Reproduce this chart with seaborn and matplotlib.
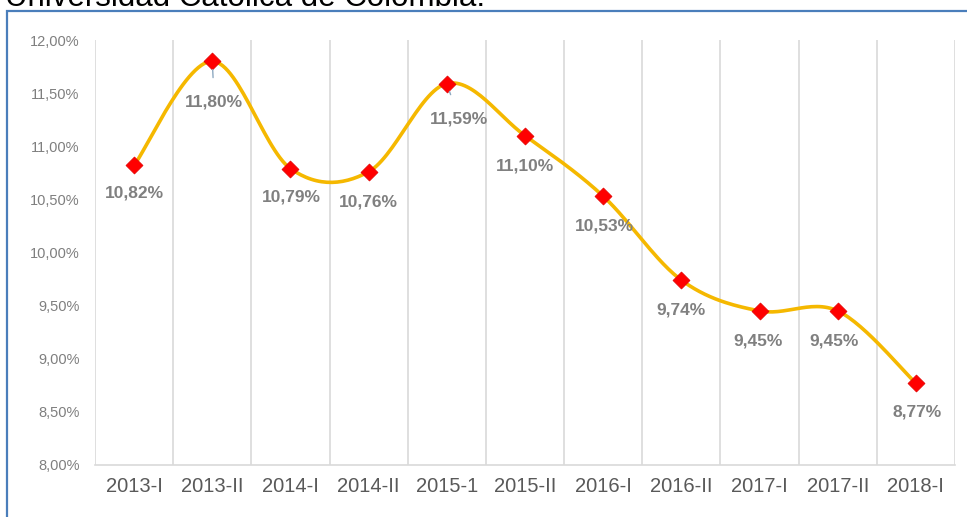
#!/usr/bin/env python3

import numpy as np
import pandas as pd
import matplotlib
matplotlib.use("Agg")
import matplotlib.pyplot as plt
import seaborn as sns
from matplotlib.patches import Rectangle

periodos = ["2013-I", "2013-II", "2014-I", "2014-II", "2015-1", "2015-II",
            "2016-I", "2016-II", "2017-I", "2017-II", "2018-I"]
tasa = [10.82, 11.80, 10.79, 10.76, 11.59, 11.10, 10.53, 9.74, 9.45, 9.45, 8.77]
# label offsets in pixels (dx, dy), dy negative = below
label_off = [(0, -28), (2, -41), (1, -28), (0, -30), (12, -35), (0, -30),
             (1, -30), (0, -30), (-1, -30), (-4, -30), (1, -29)]

yticks = [8, 8.5, 9, 9.5, 10, 10.5, 11, 11.5, 12]


def smooth(xs, ys, n=30):
    # catmull-rom like Excel's smoothed line
    xs = np.asarray(xs, float)
    ys = np.asarray(ys, float)
    px = np.concatenate([[xs[0]], xs, [xs[-1]]])
    py = np.concatenate([[ys[0]], ys, [ys[-1]]])
    ox, oy = [], []
    for i in range(1, len(px) - 2):
        t = np.linspace(0, 1, n, endpoint=False)
        p0, p1, p2, p3 = i - 1, i, i + 1, i + 2
        # bezier control points
        c1x = px[p1] + (px[p2] - px[p0]) / 6
        c1y = py[p1] + (py[p2] - py[p0]) / 6
        c2x = px[p2] - (px[p3] - px[p1]) / 6
        c2y = py[p2] - (py[p3] - py[p1]) / 6
        b = lambda a0, a1, a2, a3: ((1 - t) ** 3 * a0 + 3 * (1 - t) ** 2 * t * a1
                                    + 3 * (1 - t) * t ** 2 * a2 + t ** 3 * a3)
        ox.extend(b(px[p1], c1x, c2x, px[p2]))
        oy.extend(b(py[p1], c1y, c2y, py[p2]))
    ox.append(xs[-1])
    oy.append(ys[-1])
    return np.array(ox), np.array(oy)


df = pd.DataFrame({"pos": np.arange(len(periodos)), "tasa": tasa})
sx, sy = smooth(df["pos"], df["tasa"])
curve = pd.DataFrame({"x": sx, "y": sy})

sns.set_style("white")
plt.rcParams["font.family"] = ["Liberation Sans", "DejaVu Sans"]

fig = plt.figure(figsize=(9.67, 5.17), dpi=100)
W, H = 967, 517
ax = fig.add_axes([95 / W, 1 - 465 / H, 860 / W, 425 / H])

sns.lineplot(data=curve, x="x", y="y", ax=ax, color="#F5B800", lw=2.6,
             sort=False, zorder=2)
sns.scatterplot(data=df, x="pos", y="tasa", ax=ax, marker="D", s=75,
                color="#FF0000", edgecolor="#E00000", linewidth=0.5, zorder=3)

for i, v in enumerate(tasa):
    dx, dy = label_off[i]
    lbl = f"{v:.2f}%".replace(".", ",")
    kw = {}
    if i in (1, 4):
        kw["arrowprops"] = dict(arrowstyle="-", color="#8EA9C1", lw=1,
                                shrinkA=10, shrinkB=6)
    ax.annotate(lbl, (i, v), xytext=(dx, dy), textcoords="offset pixels",
                ha="center", va="center", fontsize=12.5, fontweight="bold",
                color="#808080", **kw)

ax.set_xlim(-0.5, len(periodos) - 0.5)
ax.set_ylim(8, 12)
ax.set_xticks(range(len(periodos)))
ax.set_xticklabels(periodos, fontsize=14.5, color="#595959")
ax.set_yticks(yticks)
ax.set_yticklabels([f"{t:.2f}%".replace(".", ",") for t in yticks],
                   fontsize=10.5, color="#7F7F7F")
ax.tick_params(axis="both", length=0)
ax.tick_params(axis="y", pad=11)
ax.tick_params(axis="x", pad=9)
for k in range(len(periodos) + 1):
    ax.axvline(k - 0.5, color="#D9D9D9", lw=1.2, zorder=0)
for s in ["top", "right", "left"]:
    ax.spines[s].set_visible(False)
ax.spines["bottom"].set_color("#D9D9D9")
ax.spines["bottom"].set_linewidth(1.2)
ax.set_xlabel("")
ax.set_ylabel("")

fig.patches.append(Rectangle((7 / W, -0.1), 1.1, 1 - 11 / H + 0.1,
                             transform=fig.transFigure, fill=False,
                             edgecolor="#4A7EBB", lw=1.6, zorder=0))
# title sits partly above the image edge, as in the source screenshot
fig.text(5 / W, 1 - 6 / H, "Universidad Católica de Colombia.",
         fontsize=22.5, color="black", va="baseline", ha="left")

fig.savefig("out.png", dpi=100)
